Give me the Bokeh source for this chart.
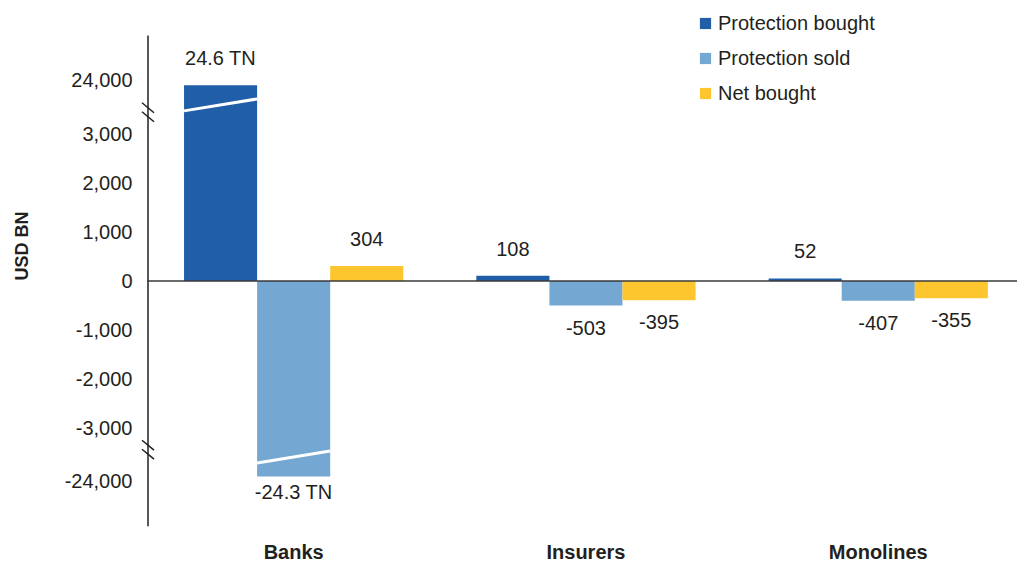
import math
from bokeh.plotting import figure
from bokeh.models import (Range1d, FixedTicker, Legend, LegendItem, ColumnDataSource)
from bokeh.embed import file_html
from bokeh.resources import INLINE
from bokeh.core.properties import value

# ---------------- data ----------------
categories = ["Banks", "Insurers", "Monolines"]
series_names = ["Protection bought", "Protection sold", "Net bought"]
protection_bought = [24600, 108, 52]
protection_sold = [-24300, -503, -407]
net_bought = [304, -395, -355]
y_tick_values = [-24000, -3000, -2000, -1000, 0, 1000, 2000, 3000, 24000]
y_tick_labels = ["-24,000", "-3,000", "-2,000", "-1,000", "0", "1,000", "2,000", "3,000", "24,000"]
y_axis_title = "USD BN"

# ---------------- broken axis ----------------
BREAK = 3000       # axis is linear up to this value
BAR_CAP = 4000     # displayed height of bars beyond the break
TICK_CAP = 4100    # displayed position of the tick beyond the break


def disp(v):
    return v if abs(v) <= BREAK else math.copysign(BAR_CAP, v)


def disp_tick(v):
    return v if abs(v) <= BREAK else math.copysign(TICK_CAP, v)


def fmt(v):
    return f"{v / 1000:.1f} TN" if abs(v) > BREAK else f"{v}"


# ---------------- style / layout ----------------
FONT = "Liberation Sans"
TXT = "#231F20"
COLORS = ["#215EA8", "#74A7D1", "#FDC62E"]
W, H = 1017, 565
FRAME_L, FRAME_R, FRAME_T, FRAME_B = 140, 1017, 0, 527   # page px
AXIS_PX = 147
PX_PER_CAT = 292.3
PX_PER_1000 = 49.0
ZERO_PY = 281
X0 = -0.5 - (AXIS_PX - FRAME_L) / PX_PER_CAT
X1 = X0 + (FRAME_R - FRAME_L) / PX_PER_CAT
Y1 = (ZERO_PY - FRAME_T) / PX_PER_1000 * 1000
Y0 = -(FRAME_B - ZERO_PY) / PX_PER_1000 * 1000


def yd(py):
    return Y1 - (py - FRAME_T) / (FRAME_B - FRAME_T) * (Y1 - Y0)


def xd(px):
    return X0 + (px - FRAME_L) / (FRAME_R - FRAME_L) * (X1 - X0)


p = figure(width=W, height=H, x_range=Range1d(X0, X1), y_range=Range1d(Y0, Y1),
           output_backend="svg", toolbar_location=None,
           min_border_left=FRAME_L, min_border_right=W - FRAME_R,
           min_border_top=FRAME_T, min_border_bottom=H - FRAME_B)
p.outline_line_color = None
p.grid.visible = False
p.background_fill_color = None
p.border_fill_color = None

# category axis (labels only)
xax = p.xaxis[0]
xax.ticker = FixedTicker(ticks=list(range(len(categories))))
xax.major_label_overrides = {i: c for i, c in enumerate(categories)}
xax.axis_line_color = None
xax.major_tick_line_color = None
xax.minor_tick_line_color = None
xax.major_tick_out = 0
xax.major_tick_in = 0
xax.major_label_standoff = 14
xax.major_label_text_font = FONT
xax.major_label_text_font_size = "20px"
xax.major_label_text_font_style = "bold"
xax.major_label_text_color = TXT

yax = p.yaxis[0]
yax.ticker = FixedTicker(ticks=[disp_tick(v) for v in y_tick_values])
yax.major_label_overrides = {disp_tick(v): lab for v, lab in zip(y_tick_values, y_tick_labels)}
yax.major_tick_line_color = None
yax.minor_tick_line_color = None
yax.major_tick_out = 0
yax.major_tick_in = 0
yax.major_label_standoff = 15 - (AXIS_PX - FRAME_L)
yax.major_label_text_font = FONT
yax.major_label_text_font_size = "20px"
yax.major_label_text_color = TXT
yax.axis_line_color = None
# leading no-break spaces lift the centred title to where the reference has it
yax.axis_label = "\u00a0" * 7 + y_axis_title
yax.axis_label_standoff = 30
yax.axis_label_text_font = FONT
yax.axis_label_text_font_size = "18px"
yax.axis_label_text_font_style = "bold"
yax.axis_label_text_color = TXT

# visible y-axis line (from 35px down to 527px)
ax_x = xd(AXIS_PX + 0.5)
p.segment(x0=[ax_x], y0=[yd(35)], x1=[ax_x], y1=[yd(527)], line_color=TXT, line_width=1.5)

series = [protection_bought, protection_sold, net_bought]
offsets = [-0.25, 0.0, 0.25]
BAR_W = 0.25
legend_items = []
for name, vals, off, col in zip(series_names, series, offsets, COLORS):
    xs = [i + off for i in range(len(categories))]
    tops = [disp(v) for v in vals]
    src = ColumnDataSource(dict(x=xs, top=tops, label=[fmt(v) for v in vals],
                                yoff=[-27 if v > 0 else (15 if abs(v) > BREAK else 22) for v in vals]))
    r = p.vbar(x="x", top="top", bottom=0, width=BAR_W, fill_color=col, line_color=None, source=src)
    legend_items.append(LegendItem(label=name, renderers=[r]))
    p.text(x="x", y="top", text="label", y_offset="yoff", text_align="center",
           text_baseline="alphabetic", text_font=value(FONT), text_font_size="20px",
           text_color=TXT, source=src)
    # white break lines through bars that exceed the break
    bx0, bx1, by0, by1 = [], [], [], []
    for x, v in zip(xs, vals):
        if abs(v) > BREAK:
            c = math.copysign(3600, v)
            bx0.append(x - BAR_W / 2); bx1.append(x + BAR_W / 2)
            by0.append(c - 122); by1.append(c + 122)
    if bx0:
        p.segment(x0=bx0, y0=by0, x1=bx1, y1=by1, line_color="white", line_width=3)

# zero line from the axis to the right edge
p.segment(x0=[xd(AXIS_PX)], y0=[0], x1=[X1], y1=[0], line_color="#3A3A3A", line_width=1.5)

# axis break marks
mx0, my0, mx1, my1 = [], [], [], []
for c in (3450, -3450):
    for dy in (92, -92):
        mx0.append(xd(141.5)); my0.append(c + dy + 102)
        mx1.append(xd(153.5)); my1.append(c + dy - 102)
p.segment(x0=mx0, y0=my0, x1=mx1, y1=my1, line_color=TXT, line_width=1.5)

legend = Legend(items=legend_items, location=(698 - FRAME_L, FRAME_B - 105.5),
                orientation="vertical",
                glyph_width=14, glyph_height=14, label_height=14, label_standoff=6,
                spacing=12, padding=0, margin=0, border_line_color=None,
                background_fill_alpha=0, label_text_font=FONT,
                label_text_font_size="20px", label_text_color=TXT)
p.add_layout(legend)

open("out.html", "w").write(file_html(p, INLINE))
